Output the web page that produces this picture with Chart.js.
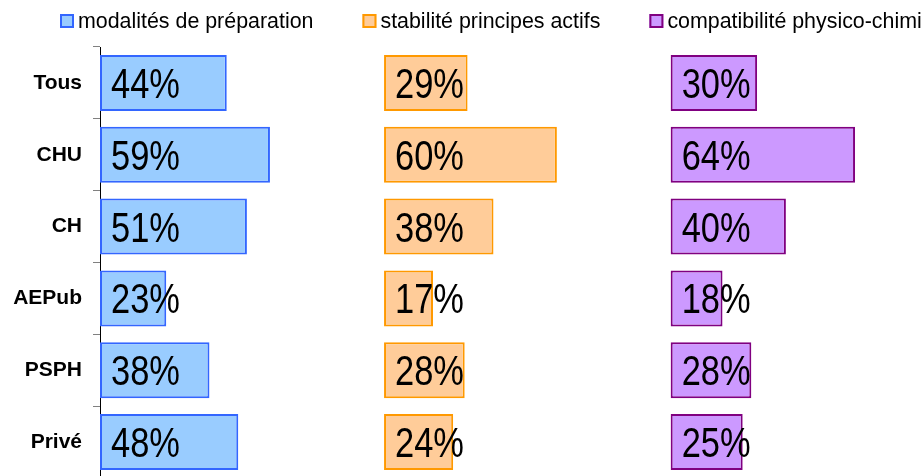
<!DOCTYPE html>
<html>
<head>
<meta charset="utf-8">
<script src="https://cdn.jsdelivr.net/npm/chart.js@4.4.1/dist/chart.umd.min.js"></script>
<style>
    html, body { margin: 0; padding: 0; background: #fff; overflow: hidden; }
    canvas { display: block; }
</style>
</head>
<body>
<canvas id="chart" width="921" height="478"></canvas>
<script>
const categories = ['Tous', 'CHU', 'CH', 'AEPub', 'PSPH', 'Privé'];
const preparation = [44, 59, 51, 23, 38, 48];
const stabilite = [29, 60, 38, 17, 28, 24];
const compatibilite = [30, 64, 40, 18, 28, 25];
const seriesLabels = ['modalités de préparation', 'stabilité principes actifs', 'compatibilité physico-chimique'];

// the three panels share one x scale, each one starts further right
const panelStart = [0, 98.6, 198.1];
const fills = ['#99CCFF', '#FFCC99', '#CC99FF'];
const borders = ['#3366FF', '#FF9900', '#800080'];
const series = [preparation, stabilite, compatibilite];

const datasets = series.map((values, i) => ({
    label: seriesLabels[i],
    data: values.map(v => [panelStart[i], panelStart[i] + v]),
    backgroundColor: fills[i],
    borderColor: borders[i],
    borderWidth: 2,
    borderSkipped: false,
    grouped: false,
    categoryPercentage: 1,
    barPercentage: 0.78
}));

// big percentage text inside each bar (Arial squeezed to look like Arial Narrow)
const valueLabels = {
    id: 'valueLabels',
    afterDatasetsDraw(chart) {
        const ctx = chart.ctx;
        const squeeze = 0.82;
        ctx.save();
        ctx.font = '42px "Liberation Sans", Arial, sans-serif';
        ctx.fillStyle = '#000';
        ctx.textAlign = 'left';
        ctx.textBaseline = 'alphabetic';
        ctx.scale(squeeze, 1);
        series.forEach((values, i) => {
            chart.getDatasetMeta(i).data.forEach((bar, j) => {
                ctx.fillText(values[j] + '%', (bar.base + 11) / squeeze, bar.y + 15);
            });
        });
        ctx.restore();
    }
};

// legend row along the top, cut by the right edge like the original
const topLegend = {
    id: 'topLegend',
    afterDraw(chart) {
        const ctx = chart.ctx;
        ctx.save();
        ctx.font = '21.4px "Liberation Sans", Arial, sans-serif';
        ctx.textBaseline = 'middle';
        let x = 60;
        const y = 21;
        chart.data.datasets.forEach(ds => {
            ctx.fillStyle = ds.backgroundColor;
            ctx.fillRect(x, y - 7, 14, 14);
            ctx.strokeStyle = ds.borderColor;
            ctx.lineWidth = 2;
            ctx.strokeRect(x + 1, y - 6, 12, 12);
            ctx.fillStyle = '#000';
            ctx.fillText(ds.label, x + 18, y + 1);
            x += 18 + ctx.measureText(ds.label).width + 49;
        });
        ctx.restore();
    }
};

new Chart(document.getElementById('chart'), {
    type: 'bar',
    data: { labels: categories, datasets },
    options: {
        indexAxis: 'y',
        responsive: false,
        animation: false,
        layout: { padding: { top: 47, right: 0, bottom: 0, left: 0 } },
        plugins: {
            legend: { display: false },
            tooltip: { enabled: false }
        },
        scales: {
            x: {
                display: false,
                min: 0,
                max: 285
            },
            y: {
                afterFit: (scale) => {
                    scale.width = 100;
                    // labels sit inside their bands, no extra room needed above/below
                    scale.paddingTop = 0;
                    scale.paddingBottom = 0;
                },
                border: { display: true, color: '#000', width: 1 },
                grid: {
                    offset: true,
                    drawOnChartArea: false,
                    drawTicks: true,
                    tickLength: 7,
                    color: '#808080'
                },
                ticks: {
                    padding: 11,
                    color: '#000',
                    font: { family: '"Liberation Sans", Arial, sans-serif', size: 21, weight: 'bold' }
                }
            }
        }
    },
    plugins: [valueLabels, topLegend]
});
</script>
</body>
</html>
